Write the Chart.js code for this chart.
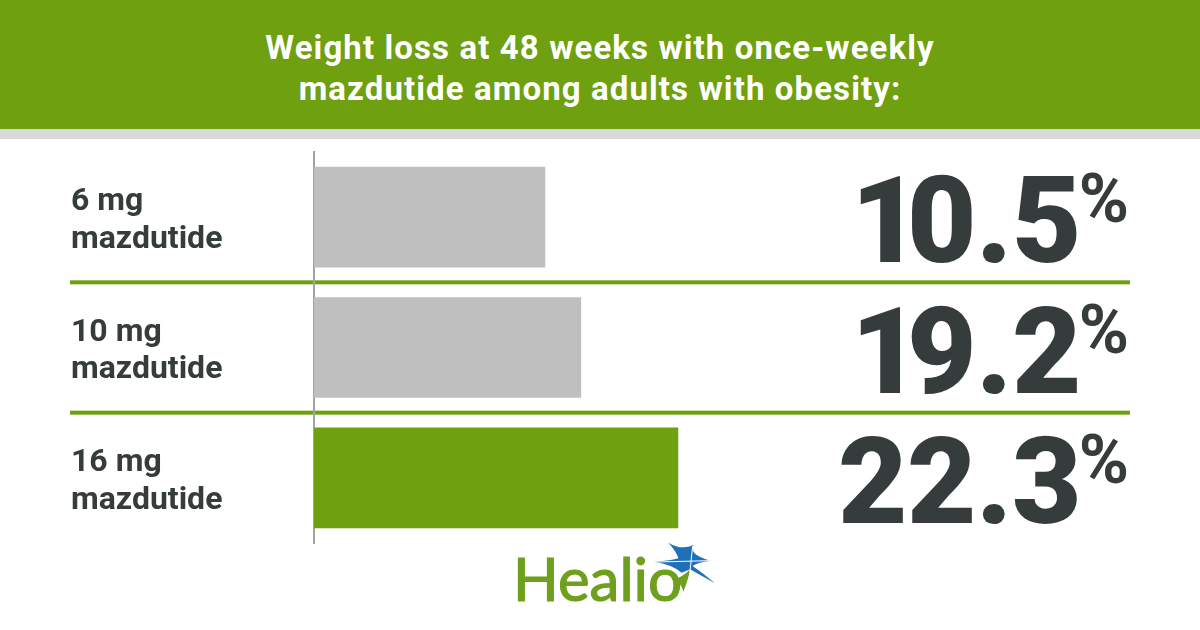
<!DOCTYPE html>
<html>
<head>
<meta charset="utf-8">
<title>Mazdutide weight loss</title>
<script src="https://cdn.jsdelivr.net/npm/chart.js@4"></script>
<style>
  html, body { margin: 0; padding: 0; background: #fff; }
  #wrap { position: relative; width: 1200px; height: 630px; overflow: hidden; }
  #chart { position: absolute; left: 0; top: 0; }
  #header {
    position: absolute; left: 0; top: 0; width: 1200px; height: 102px;
    background: #6ea00f; border-bottom: 10px solid #d9d9d9;
    color: #fff; text-align: center;
    font: 700 33px/41px Roboto, sans-serif; letter-spacing: 1.1px;
    padding-top: 27px;
  }
  #logo { position: absolute; left: 0; top: 0; }
</style>
</head>
<body>
<div id="wrap">
  <canvas id="chart" width="1200" height="630"></canvas>
  <div id="header">Weight loss at 48 weeks with once-weekly<br>mazdutide among adults with obesity:</div>
  <svg id="logo" width="1200" height="630">
    <text x="513" y="601" font-family="Lato, sans-serif" font-weight="400" font-size="60" fill="#6ea01e" stroke="#6ea01e" stroke-width="1.2">Healio</text>
    <g transform="translate(500,530) scale(0.3333)">
      <path d="M505,38 Q545,62 580,45 Q566,75 632,92 Q590,98 578,108 Q610,130 645,160 Q600,135 570,118 Q555,125 545,128 Q520,105 465,95 Q515,92 535,85 Q530,65 505,38 Z" fill="#1f70b8"/>
      <path d="M570,118 Q565,150 550,185 Q545,160 520,150 Q550,140 570,118 Z" fill="#6ea01e"/>
      <path d="M578,48 L570,125 M470,96 L630,92" stroke="#fff" stroke-width="3" fill="none"/>
    </g>
  </svg>
</div>

<script>
// --- Data ---
const categories = [['6 mg', 'mazdutide'], ['10 mg', 'mazdutide'], ['16 mg', 'mazdutide']];
const printedValues = [10.5, 19.2, 22.3];
// the printed bars are not to scale with the printed numbers, these are their drawn lengths
const barLengths = [14.15, 16.35, 22.3];
const barColors = ['#bfbfbf', '#bfbfbf', '#6ea00f'];

const INK = '#363b3c';
const GREEN = '#6ea00f';

// Green rules between rows, under the axis line
const rowRules = {
  id: 'rowRules',
  beforeDraw(chart) {
    const bars = chart.getDatasetMeta(0).data;
    const ctx = chart.ctx;
    ctx.save();
    ctx.fillStyle = GREEN;
    for (let i = 0; i < bars.length - 1; i++) {
      const y = (bars[i].y + bars[i + 1].y) / 2;
      ctx.fillRect(70, y - 2, 1060, 4);
    }
    ctx.restore();
  }
};

// Big numbers on the right with the small raised percent sign
const bigValues = {
  id: 'bigValues',
  afterDatasetsDraw(chart) {
    const bars = chart.getDatasetMeta(0).data;
    const ctx = chart.ctx;
    ctx.save();
    ctx.fillStyle = INK;
    ctx.textBaseline = 'alphabetic';
    ctx.textAlign = 'right';
    bars.forEach((bar, i) => {
      const base = bar.y + 45;
      const text = printedValues[i].toFixed(1);
      ctx.font = '900 120px Roboto, sans-serif';
      ctx.letterSpacing = '-0.5px';
      // the source sets a narrow leading 1, so it sits closer to the next digit
      if (text[0] === '1') {
        const rest = text.slice(1);
        ctx.fillText(rest, 1081, base);
        ctx.fillText('1', 1081 - ctx.measureText(rest).width + 13, base);
      } else {
        ctx.fillText(text, 1081, base);
      }
      ctx.letterSpacing = '0px';
      ctx.font = '700 68px Roboto, sans-serif';
      ctx.fillText('%', 1129, base - 40);
    });
    ctx.restore();
  }
};

new Chart(document.getElementById('chart'), {
  type: 'bar',
  data: {
    labels: categories,
    datasets: [{
      data: barLengths,
      backgroundColor: barColors,
      barThickness: 100
    }]
  },
  options: {
    indexAxis: 'y',
    responsive: false,
    animation: false,
    layout: { padding: { left: 71, right: 70, top: 152, bottom: 87 } },
    plugins: { legend: { display: false }, tooltip: { enabled: false } },
    scales: {
      x: { display: false, min: 0, max: 50 },
      y: {
        afterFit(scale) { scale.width = 243; },
        grid: { display: false },
        border: { display: true, color: '#a3a3a3', width: 2 },
        ticks: {
          crossAlign: 'far',
          labelOffset: 4,
          color: INK,
          font: { family: 'Roboto, sans-serif', weight: '700', size: 32, lineHeight: 1.18 }
        }
      }
    }
  },
  plugins: [rowRules, bigValues]
});
</script>
</body>
</html>
